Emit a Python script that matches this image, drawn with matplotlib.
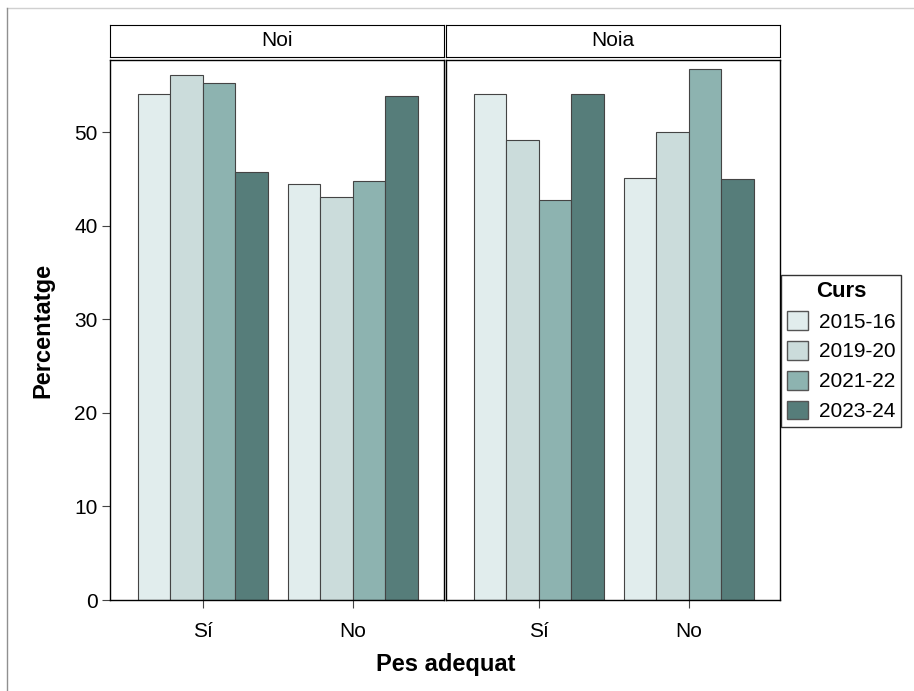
import matplotlib.pyplot as plt
from matplotlib.lines import Line2D
from matplotlib.patches import Patch
import numpy as np

plt.rcParams['font.family'] = ['Liberation Sans', 'DejaVu Sans']

cursos = ['2015-16', '2019-20', '2021-22', '2023-24']
categories = ['Sí', 'No']
panels = ['Noi', 'Noia']
values = {
    'Noi': {'2015-16': [54.1, 44.4], '2019-20': [56.1, 43.1],
            '2021-22': [55.2, 44.8], '2023-24': [45.7, 53.8]},
    'Noia': {'2015-16': [54.1, 45.1], '2019-20': [49.1, 50.0],
             '2021-22': [42.7, 56.7], '2023-24': [54.1, 45.0]},
}
colors = ['#e1eded', '#cbdcdb', '#8db3b0', '#567d7a']

fig = plt.figure(figsize=(9.14, 6.91), dpi=100)

lefts = [110 / 914, 446 / 914]
w = 334 / 914
bottom = 1 - 600 / 691
h = 540 / 691
strip_b = 1 - 57 / 691
strip_h = 32 / 691

bw = 0.217
x = np.arange(1, len(categories) + 1)
for i, p in enumerate(panels):
    ax = fig.add_axes([lefts[i], bottom, w, h])
    for j, c in enumerate(cursos):
        ax.bar(x + (j - 1.5) * bw, values[p][c], width=bw, color=colors[j],
               edgecolor='#444444', linewidth=0.8)
    ax.set_xlim(0.38, 2.61)
    ax.set_ylim(0, 57.7)
    ax.set_xticks(x)
    ax.set_xticklabels(categories, fontsize=15)
    ax.tick_params(axis='x', length=6, pad=10, color='#444444')
    ax.tick_params(axis='y', length=6, pad=3, labelsize=15, color='#444444')
    for s in ax.spines.values():
        s.set_linewidth(1.0)
    if i == 0:
        ax.set_yticks([0, 10, 20, 30, 40, 50])
        ax.set_ylabel('Percentatge', fontsize=17, fontweight='bold', labelpad=14)
    else:
        ax.set_yticks([])
    sax = fig.add_axes([lefts[i], strip_b, w, strip_h])
    sax.set_xticks([])
    sax.set_yticks([])
    sax.text(0.5, 0.5, p, ha='center', va='center', fontsize=15,
             transform=sax.transAxes)

fig.text((110 + 781) / 2 / 914, 1 - 664 / 691, 'Pes adequat', ha='center',
         va='center', fontsize=17, fontweight='bold')

handles = [Patch(facecolor=colors[j], edgecolor='#555555', label=c)
           for j, c in enumerate(cursos)]
leg = fig.legend(handles=handles, title='Curs', loc='center left',
                 bbox_to_anchor=(781 / 914, 1 - 351 / 691), fontsize=15,
                 title_fontproperties={'weight': 'bold', 'size': 16},
                 frameon=True, fancybox=False, edgecolor='black',
                 handlelength=1.0, handleheight=1.0, labelspacing=0.45,
                 borderpad=0.3, handletextpad=0.5, borderaxespad=0)
leg.get_frame().set_linewidth(1.0)

fig.add_artist(Line2D([7 / 914, 1], [1 - 8 / 691, 1 - 8 / 691],
                      color='#d0d0d0', linewidth=1, transform=fig.transFigure))
fig.add_artist(Line2D([7 / 914, 7 / 914], [0, 1 - 8 / 691],
                      color='#909090', linewidth=1, transform=fig.transFigure))

fig.savefig('out.png', dpi=100)
